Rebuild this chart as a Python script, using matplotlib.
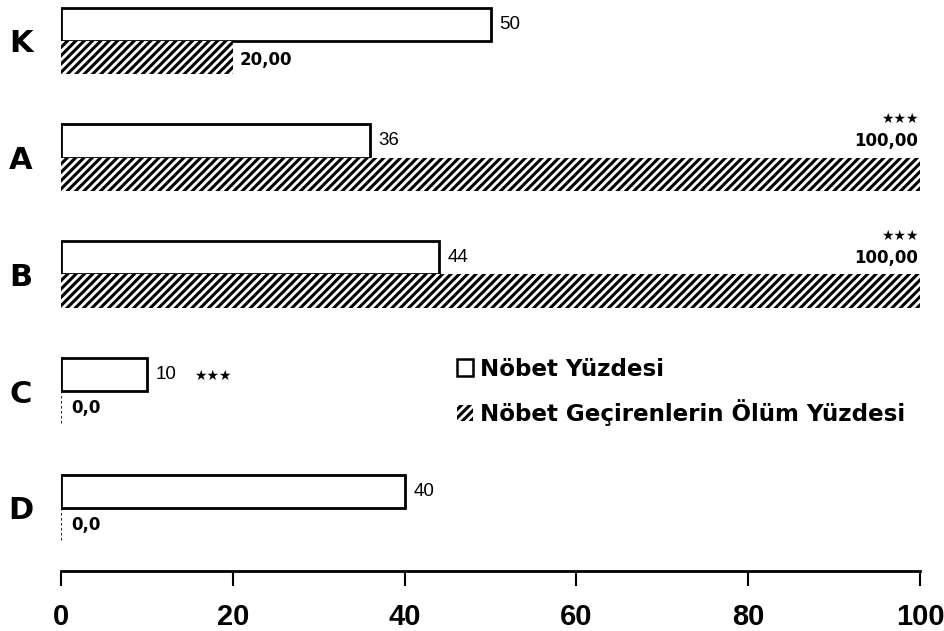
import matplotlib
matplotlib.use("Agg")
import matplotlib.pyplot as plt
import numpy as np
from matplotlib.patches import Patch

categories = ["K", "A", "B", "C", "D"]
nobet = [50, 36, 44, 10, 40]
olum = [20.0, 100.0, 100.0, 0.0, 0.0]
nobet_labels = ["50", "36", "44", "10", "40"]
nobet_stars = ["", "", "", "★★★", ""]
olum_labels = ["20,00", "100,00", "100,00", "0,0", "0,0"]
olum_stars = ["", "★★★", "★★★", "", ""]
xticks = [0, 20, 40, 60, 80, 100]
legend_labels = ["Nöbet Yüzdesi", "Nöbet Geçirenlerin Ölüm Yüzdesi"]

plt.rcParams['hatch.linewidth'] = 2.2
FAM = ['Liberation Sans', 'DejaVu Sans']
BFAM = ['DejaVu Sans']

fig = plt.figure(figsize=(9.45, 6.31), dpi=100)
ax = fig.add_axes([61/945, 1-571/631, (920-61)/945, 571/631])

pos = np.arange(len(categories))
h = 0.285
ax.barh(pos - h/2, nobet, height=h, color='white', edgecolor='black', linewidth=2)
ax.barh(pos + h/2, olum, height=h, color='white', edgecolor='black', linewidth=0, hatch='////')
# dashed baseline for zero bars
for p, v in zip(pos, olum):
    if v == 0:
        ax.plot([0, 0], [p, p + h], color='black', linestyle=(0, (1.5, 1.5)), linewidth=1.2)

for p, v, lab, st in zip(pos, nobet, nobet_labels, nobet_stars):
    ax.text(v + 1.0, p - h/2, lab, va='center', ha='left', fontsize=13.5, family=FAM)
    if st:
        ax.text(v + 5.5, p - h/2 + 0.01, st, va='center', ha='left', fontsize=10, family=BFAM)
for p, v, lab, st in zip(pos, olum, olum_labels, olum_stars):
    if v >= 100:
        ax.text(99.8, p - h/2, lab, va='center', ha='right', fontsize=12, fontweight='bold', family=BFAM)
        ax.text(99.8, p - h/2 - 0.19, st, va='center', ha='right', fontsize=10, family=BFAM)
    elif v == 0:
        ax.text(v + 1.2, p + h/2, lab, va='center', ha='left', fontsize=12, fontweight='bold', family=BFAM)
    else:
        ax.text(v + 0.8, p + h/2 + 0.02, lab, va='center', ha='left', fontsize=12, fontweight='bold', family=BFAM)

ax.set_xlim(0, 100)
ax.set_ylim(4.54, -0.35)
ax.set_yticks(pos)
ax.set_yticklabels(categories, fontsize=22, fontweight='bold', family=BFAM)
ax.tick_params(axis='y', length=0, pad=29)
for lbl in ax.get_yticklabels():
    lbl.set_horizontalalignment('center')
ax.set_xticks(xticks)
ax.set_xticklabels([str(t) for t in xticks], fontsize=21, fontweight='bold', family=FAM)
ax.tick_params(axis='x', length=11, width=1.5, pad=12, direction='out')
for s in ['top', 'right', 'left']:
    ax.spines[s].set_visible(False)
ax.spines['bottom'].set_linewidth(2)

handles = [Patch(facecolor='white', edgecolor='black', linewidth=1.8),
           Patch(facecolor='white', edgecolor='black', linewidth=0, hatch='////')]
ax.legend(handles, legend_labels, loc='upper left', bbox_to_anchor=((445-61)/859, 1-(346)/571),
          frameon=False, prop={'family': BFAM, 'weight': 'bold', 'size': 16.6},
          handlelength=0.7, handleheight=0.7, handletextpad=0.3, labelspacing=0.82, borderpad=0)

fig.savefig("out.png", dpi=100)
